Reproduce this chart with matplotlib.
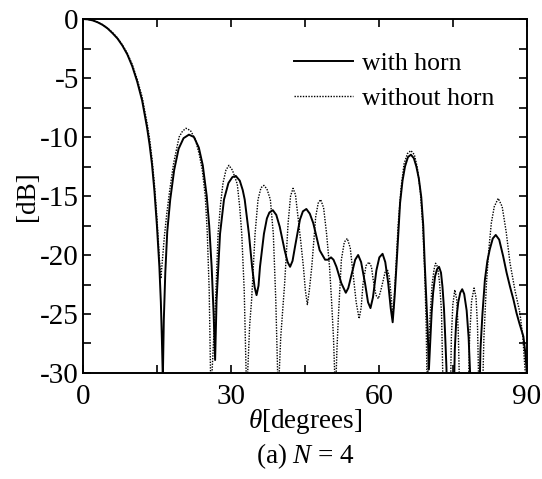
import numpy as np
import matplotlib
matplotlib.use('Agg')
import matplotlib.pyplot as plt

plt.rcParams['font.family'] = ['Liberation Serif', 'DejaVu Serif']
plt.rcParams['mathtext.fontset'] = 'custom'
plt.rcParams['mathtext.rm'] = 'Liberation Serif'
plt.rcParams['mathtext.it'] = 'Liberation Serif:italic'
plt.rcParams['axes.unicode_minus'] = False

# --- data (theta in degrees, level in dB) ---
# values below -30 are nulls that go off the bottom of the plot
theta_horn = [0, 1, 2, 3, 4, 5, 6, 7, 8, 9, 10, 11, 12, 13, 13.5, 14, 14.5, 15, 15.5, 15.8, 16.0, 16.2,
              16.4, 16.7, 17.1, 17.7, 18.5, 19.4, 20.4, 21.5, 22.5, 23.5, 24.3, 25.1, 25.6, 26.1, 26.5, 26.8,
              27.1, 27.5, 27.8, 28.6, 29.5, 30.3, 31.0, 31.8, 32.4, 32.8, 33.65, 34.3, 34.8, 35.2, 35.6, 35.9,
              36.7, 37.3, 37.8, 38.5, 39.2, 39.9, 40.9, 41.5, 42.0, 42.5, 43.0, 44.0, 44.6, 45.3, 46.0, 46.7,
              48.0, 49.1, 49.7, 50.3, 50.8, 51.4, 52.4, 53.3, 53.8, 54.5, 55.2, 55.8, 56.4, 57.2, 57.8, 58.3,
              58.8, 59.5, 60.1, 60.75, 61.3, 61.9, 62.4, 62.8, 63.2, 63.6, 64.3, 64.8, 65.3, 65.9, 66.5, 67.1,
              67.6, 68.1, 68.6, 69.0, 69.3, 69.6, 69.9, 70.15, 70.4, 70.7, 71.0, 71.4, 71.8, 72.2, 72.6, 72.9,
              73.2, 73.4, 73.7, 73.85, 75.2, 75.4, 75.7, 76.1, 76.5, 76.9, 77.3, 77.8, 78.2, 78.7, 80.4, 80.6,
              81.0, 81.5, 82.0, 82.5, 83.1, 83.7, 84.4, 85.2, 85.9, 86.6, 87.3, 87.9, 88.5, 89.3, 89.7, 90]
db_horn = [0, -0.03, -0.12, -0.28, -0.5, -0.8, -1.2, -1.65, -2.25, -3.0, -4.0, -5.3, -6.9, -9.2, -10.6, -12.3,
           -14.6, -17.5, -21.0, -24.0, -27.0, -30.5,
           -25.5, -21.5, -18.0, -15.3, -12.8, -11.0, -10.1, -9.8, -10.0, -10.9, -12.4, -15.0, -17.5, -21.0,
           -25.0, -28.9,
           -23.8, -20.5, -18.2, -15.3, -13.9, -13.4, -13.3, -13.7, -14.5, -15.3, -18.2, -21.0, -22.7, -23.4,
           -22.6, -21.0,
           -18.2, -16.9, -16.4, -16.2, -16.6, -17.6, -19.6, -20.6, -21.0, -20.5, -19.3, -17.0, -16.3, -16.1,
           -16.5, -17.3,
           -19.6, -20.4, -20.4, -20.2, -20.4, -21.0, -22.4, -23.2, -22.8, -21.6, -20.4, -20.0, -20.6, -22.4,
           -24.0, -24.5,
           -23.6, -21.3, -20.2, -19.9, -20.6, -22.4, -24.5, -25.7, -23.5, -20.7, -15.6, -13.7, -12.5, -11.7,
           -11.5, -11.8,
           -12.5, -13.5, -15.1, -17.5, -20.7, -23.5, -26.4, -29.7, -27.5, -24.9, -23.2, -21.8, -21.2, -21.0,
           -21.5, -22.7,
           -24.5, -26.4, -29.5, -32, -32, -28.0, -25.5, -24.0, -23.2, -22.9, -23.3, -24.7, -27.0, -32, -32,
           -28.0,
           -25.0, -22.1, -20.5, -19.5, -18.6, -18.3, -18.7, -20.1, -21.5, -22.7, -23.8, -24.9, -25.8, -26.9,
           -28.3, -30.0]

theta_nohorn = [0, 1, 2, 3, 4, 5, 6, 7, 8, 9, 10, 11, 12, 13, 13.5, 14, 14.5, 15, 15.5, 15.8, 16.1, 16.5,
                17.0, 17.6, 18.4, 19.5, 20.2, 20.9, 21.8, 22.8, 23.6, 24.2, 24.8, 25.2, 25.6, 25.95,
                26.4, 26.9, 27.4, 27.9, 28.4, 29.0, 29.6, 30.3, 30.8, 31.3, 31.8, 32.2, 32.7, 33.2,
                33.8, 34.2, 34.9, 35.5, 36.1, 36.7, 37.3, 38.0, 38.6, 39.1, 39.6,
                40.1, 40.9, 41.6, 42.1, 42.6, 43.1, 43.6, 44.2, 44.7, 45.1, 45.5, 45.9, 46.4, 47.2, 47.7,
                48.2, 48.8, 49.4, 50.0, 50.4, 50.8, 51.2, 51.5, 51.8, 52.4, 53.0, 53.6, 54.2, 54.7, 55.4,
                56.0, 56.4, 56.8, 57.4, 58.0, 58.5, 58.85, 59.4, 59.9, 60.4, 60.9, 61.3, 61.7, 62.1, 62.5,
                62.8, 63.0, 63.4, 63.9, 64.5, 65.1, 65.8, 66.5, 67.2, 67.8, 68.4, 68.9, 69.3, 69.6, 69.8,
                70.1, 70.4, 70.8, 71.2, 71.5, 71.9, 72.3, 72.7, 73.05, 74.5, 74.7, 75.0, 75.4, 75.8, 76.1,
                76.4, 78.1, 78.4, 78.8, 79.3, 79.7, 80.0, 80.3, 81.0, 81.3, 81.8, 82.3, 82.8, 83.4, 84.2,
                85.0, 85.8, 86.6, 87.6, 88.6, 89.2, 89.6, 90]
db_nohorn = [0, -0.03, -0.12, -0.27, -0.48, -0.77, -1.15, -1.6, -2.2, -2.9, -3.85, -5.1, -6.6, -8.8, -10.1,
             -11.8, -14.0, -16.8, -20.3, -22.0, -20.5, -18.5,
             -16.5, -14.5, -12.2, -10.0, -9.5, -9.26, -9.45, -10.2, -11.5, -12.8, -15.0, -18.0, -23.0, -32,
             -28.0, -23.8, -18.2, -15.7, -13.9, -12.8, -12.4, -12.8, -13.4, -14.0, -16.0, -18.2, -23.0, -32,
             -26.0, -23.8, -18.2, -15.3, -14.3, -14.1, -14.4, -15.3, -18.2, -23.8, -32,
             -27.0, -22.4, -17.3, -15.0, -14.35, -14.9, -16.75, -19.0, -21.0, -23.0, -24.2, -23.0, -21.0,
             -16.75, -15.6,
             -15.3, -16.0, -18.2, -21.0, -23.8, -27.0, -32, -28.0, -25.2, -20.4, -18.9, -18.6, -19.4, -21.3,
             -24.0,
             -25.4, -24.5, -22.4, -20.9, -20.6, -21.0, -22.1, -23.4, -23.7, -23.0, -22.1, -21.4, -21.2, -21.8,
             -23.5,
             -25.0, -24.5, -21.5, -17.5, -14.3, -12.3, -11.4, -11.15, -11.5, -12.6, -14.6, -17.5, -21.5, -26.0,
             -32,
             -28.0, -25.0, -22.5, -21.2, -20.7, -21.0, -22.3, -24.8, -32, -32, -27.0, -24.2, -22.95, -23.8,
             -26.5,
             -32, -32, -27.0, -23.9, -22.8, -23.6, -26.0, -32, -32, -27.0, -22.5, -19.5, -17.3, -15.9, -15.2,
             -15.9, -18.0, -20.7, -23.0, -24.9, -27.0, -29.5, -32]

fig = plt.figure(figsize=(5.42, 4.79), dpi=100)
ax = fig.add_axes([0.153, 0.2213, 0.819, 0.739])

ax.plot(theta_horn, db_horn, color='black', linewidth=1.4, label='with horn')
ax.plot(theta_nohorn, db_nohorn, color='black', linewidth=1.0, linestyle=(0, (1, 1)),
        label='without horn')

ax.set_xlim(0, 90)
ax.set_ylim(-30, 0)
ax.set_xticks([0, 30, 60, 90])
ax.set_xticks([15, 45, 75], minor=True)
ax.set_yticks(np.arange(-30, 1, 5))
ax.set_yticks(np.arange(-27.5, 0, 5), minor=True)
ax.tick_params(which='both', direction='in', top=True, right=True, length=6, width=1.2)
ax.tick_params(axis='x', labelsize=21, pad=8)
ax.tick_params(axis='y', labelsize=21, pad=3)
for s in ax.spines.values():
    s.set_linewidth(1.4)

ax.set_ylabel('[dB]', fontsize=19.5, labelpad=0)

leg = ax.legend(loc='upper right', bbox_to_anchor=(0.95, 0.935), frameon=False, fontsize=18.5,
                handlelength=2.3, handletextpad=0.35, labelspacing=0.45, borderaxespad=0)

fig.text(0.5627, 0.12, r'$\theta$[degrees]', ha='center', va='center', fontsize=19.5)
fig.text(0.5627, 0.047, r'(a) $N$ = 4', ha='center', va='center', fontsize=19.5)

fig.savefig('out.png', dpi=100)
